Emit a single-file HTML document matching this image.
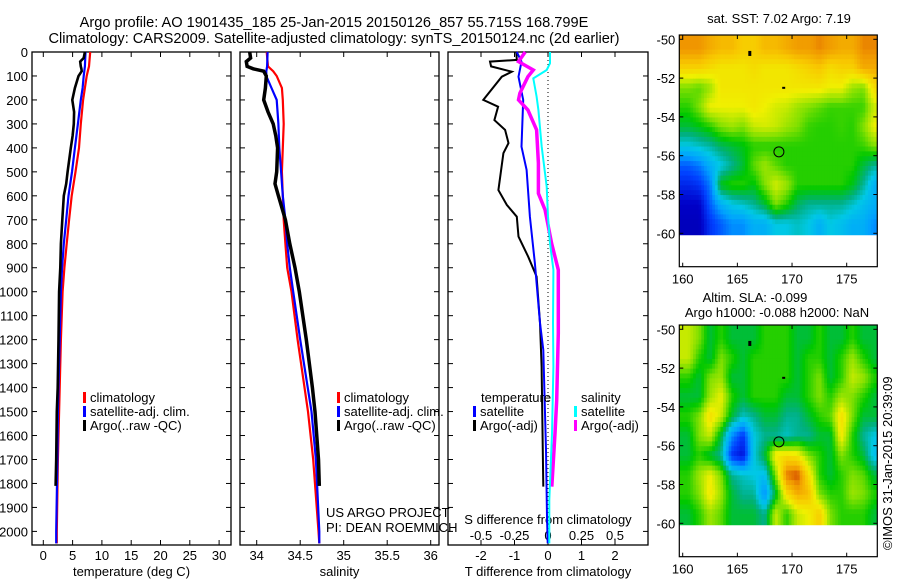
<!DOCTYPE html>
<html><head><meta charset="utf-8"><style>
body{margin:0;background:#fff;}
svg{display:block;font-family:"Liberation Sans",sans-serif;}
text{font-size:13px;fill:#000;}
</style></head><body>
<svg id="fig" width="900" height="580" viewBox="0 0 900 580">
<text x="334" y="27" text-anchor="middle" style="font-size:14.6px">Argo profile: AO 1901435_185 25-Jan-2015 20150126_857 55.715S 168.799E</text>
<text x="334" y="43" text-anchor="middle" style="font-size:14.6px">Climatology: CARS2009. Satellite-adjusted climatology: synTS_20150124.nc (2d earlier)</text>
</svg>
<script>
// ---------- data ----------
const depthsClim=[0,60,80,100,150,200,300,400,500,600,700,800,900,1000,1200,1500,1700,2000,2050];
const tempClim=[8.0,7.8,7.6,7.4,7.1,6.8,6.4,6.1,5.5,4.85,4.4,4.0,3.6,3.3,3.0,2.7,2.5,2.3,2.3];
const tempSat=[7.2,7.1,7.0,6.9,6.7,6.4,5.9,5.4,4.9,4.3,3.9,3.5,3.2,3.0,2.8,2.5,2.4,2.2,2.2];
const salClim=[34.115,34.13,34.19,34.23,34.29,34.30,34.31,34.30,34.29,34.30,34.31,34.33,34.35,34.40,34.47,34.59,34.65,34.71,34.72];
const salSat=[34.125,34.12,34.11,34.11,34.17,34.23,34.25,34.26,34.28,34.30,34.33,34.35,34.38,34.42,34.50,34.63,34.68,34.72,34.72];
const depthsArgo=[0,25,40,60,70,80,100,150,200,250,300,350,400,500,550,600,700,800,900,1000,1200,1400,1500,1700,1810];
const tempArgo=[7.1,6.9,6.3,6.4,6.5,6.55,6.0,5.4,4.95,5.25,5.2,5.0,4.7,4.15,3.9,3.5,3.25,3.0,2.9,2.7,2.6,2.45,2.3,2.2,2.1];
const salArgo=[33.92,33.93,33.88,33.89,33.96,34.08,34.11,34.10,34.08,34.13,34.19,34.22,34.24,34.23,34.21,34.25,34.33,34.38,34.44,34.49,34.57,34.64,34.67,34.71,34.72];
const dTArgoDepth=[0,33,40,60,82,103,200,228,284,325,380,422,576,638,687,770,854,937,1130,1313,1813];
const dTArgo=[-0.95,-0.93,-1.73,-1.7,-1.08,-1.38,-1.93,-1.49,-1.6,-1.28,-1.18,-1.33,-1.48,-1.23,-0.93,-0.88,-0.59,-0.34,-0.24,-0.19,-0.14];
const dTSatDepth=[0,40,103,200,395,492,687,882,1130,1243,1660,1939,2050];
const dTSat=[-0.93,-0.79,-0.88,-0.74,-0.79,-0.64,-0.54,-0.39,-0.24,-0.14,-0.06,-0.03,-0.01];
const dSArgoDepth=[0,40,75,103,172,200,242,325,464,590,659,798,909,1174,1452,1591,1813];
const dSArgo=[-0.17,-0.22,-0.11,-0.15,-0.21,-0.22,-0.15,-0.085,-0.072,-0.072,-0.022,0.027,0.077,0.077,0.065,0.052,0.028];
const dSSatDepth=[0,47,75,110,186,242,395,562,687,798,909,1130,1313,1591,1869,2050];
const dSSat=[0.015,0.015,-0.01,-0.11,-0.085,-0.072,-0.047,-0.01,0.0,0.015,0.04,0.037,0.04,0.03,0.01,0.01];
const tTicks=[0,5,10,15,20,25,30];
const sTicks=[34,34.5,35,35.5,36];
const dTTicks=[-2,-1,0,1,2];
const dSTicks=[-0.5,-0.25,0,0.25,0.5];
const depthTicks=[0,100,200,300,400,500,600,700,800,900,1000,1100,1200,1300,1400,1500,1600,1700,1800,1900,2000];
const lonTicks=[160,165,170,175];
const latTicks=[-50,-52,-54,-56,-58,-60];
// map grids: rows lat -50.5..-59.5, cols lon 160.5..177.5 (colour index 0..1)
const sstGrid=[
[0.83,0.83,0.8,0.78,0.78,0.75,0.75,0.78,0.78,0.8,0.82,0.82,0.84,0.82,0.8,0.8,0.84,0.84],
[0.74,0.74,0.72,0.7,0.7,0.7,0.72,0.7,0.7,0.7,0.72,0.74,0.76,0.72,0.74,0.74,0.8,0.8],
[0.6,0.58,0.62,0.7,0.7,0.7,0.7,0.7,0.7,0.7,0.7,0.7,0.7,0.68,0.68,0.62,0.6,0.72],
[0.55,0.6,0.68,0.68,0.68,0.68,0.7,0.68,0.66,0.65,0.62,0.6,0.58,0.56,0.56,0.56,0.56,0.65],
[0.5,0.52,0.55,0.6,0.62,0.6,0.65,0.66,0.65,0.62,0.6,0.56,0.55,0.55,0.56,0.55,0.6,0.68],
[0.4,0.42,0.44,0.48,0.5,0.52,0.55,0.55,0.55,0.55,0.55,0.55,0.55,0.55,0.55,0.55,0.56,0.6],
[0.25,0.28,0.35,0.4,0.45,0.5,0.58,0.62,0.58,0.55,0.55,0.55,0.55,0.55,0.55,0.55,0.5,0.45],
[0.18,0.2,0.28,0.52,0.55,0.55,0.52,0.6,0.66,0.62,0.55,0.55,0.55,0.55,0.55,0.52,0.45,0.35],
[0.12,0.12,0.25,0.35,0.4,0.42,0.45,0.5,0.6,0.55,0.48,0.45,0.45,0.45,0.45,0.42,0.38,0.35],
[0.1,0.1,0.2,0.25,0.3,0.3,0.35,0.35,0.4,0.4,0.42,0.4,0.35,0.4,0.38,0.35,0.35,0.3]];
const slaGrid=[
[0.65,0.6,0.5,0.55,0.5,0.5,0.5,0.55,0.55,0.55,0.5,0.5,0.55,0.5,0.5,0.55,0.5,0.5],
[0.65,0.55,0.5,0.6,0.55,0.5,0.55,0.55,0.55,0.55,0.5,0.55,0.55,0.5,0.55,0.62,0.55,0.5],
[0.55,0.5,0.6,0.62,0.5,0.5,0.55,0.55,0.55,0.55,0.5,0.55,0.6,0.5,0.55,0.65,0.62,0.55],
[0.5,0.5,0.62,0.68,0.55,0.5,0.55,0.55,0.55,0.5,0.5,0.55,0.6,0.55,0.62,0.6,0.55,0.5],
[0.55,0.6,0.72,0.65,0.5,0.42,0.45,0.5,0.5,0.45,0.45,0.5,0.55,0.58,0.72,0.6,0.5,0.5],
[0.5,0.6,0.65,0.5,0.3,0.2,0.4,0.45,0.45,0.42,0.45,0.45,0.5,0.5,0.7,0.55,0.45,0.4],
[0.5,0.55,0.5,0.45,0.2,0.15,0.4,0.5,0.7,0.72,0.7,0.6,0.55,0.5,0.6,0.55,0.5,0.38],
[0.55,0.62,0.68,0.6,0.45,0.42,0.4,0.38,0.6,0.85,0.88,0.72,0.55,0.5,0.55,0.6,0.58,0.5],
[0.55,0.6,0.7,0.62,0.5,0.45,0.45,0.3,0.5,0.72,0.8,0.78,0.6,0.55,0.55,0.62,0.6,0.55],
[0.5,0.55,0.62,0.58,0.5,0.5,0.5,0.45,0.65,0.55,0.65,0.68,0.75,0.6,0.55,0.55,0.55,0.5]];
const argoLon=168.8, argoLat=-55.8;

// ---------- helpers ----------
const NS='http://www.w3.org/2000/svg';
const svg=document.getElementById('fig');
function mk(tag,attrs,parent){const e=document.createElementNS(NS,tag);for(const k in attrs)e.setAttribute(k,attrs[k]);(parent||svg).appendChild(e);return e;}
function txt(x,y,s,anchor,parent,size){const t=mk('text',{x:x,y:y,'text-anchor':anchor||'middle'},parent);if(size)t.style.fontSize=size+'px';t.textContent=s;return t;}
const yD=d=>52+d*0.2397;

function panel(name,x0,x1,xs,ticks,fmt,label,showDepth){
  const g=mk('g',{});
  
  
  const r=mk('rect',{x:x0,y:52,width:x1-x0,height:493,fill:'none',stroke:'#000','stroke-width':1.3},g);
  
  
  depthTicks.forEach(d=>{
    mk('line',{x1:x0,x2:x0+5,y1:yD(d),y2:yD(d),stroke:'#000'},g);
    mk('line',{x1:x1-5,x2:x1,y1:yD(d),y2:yD(d),stroke:'#000'},g);
    if(showDepth){const t=txt(x0-4,yD(d)+5,String(d),'end',g);
      
      }
  });
  ticks.forEach(v=>{const x=xs(v);
    mk('line',{x1:x,x2:x,y1:52,y2:57,stroke:'#000'},g);
    mk('line',{x1:x,x2:x,y1:540,y2:545,stroke:'#000'},g);
    const t=txt(x,560,fmt(v),'middle',g);
    
    
  });
  const l=txt((x0+x1)/2,576,label,'middle',g);
  
  
  return g;
}
function line(g,xs,vals,depths,color,w,name,dash){
  const pts=vals.map((v,i)=>xs(v).toFixed(1)+','+yD(depths[i]).toFixed(1)).join(' ');
  const p=mk('polyline',{points:pts,fill:'none',stroke:color,'stroke-width':w,'stroke-linejoin':'miter'},g);
  if(dash)p.setAttribute('stroke-dasharray',dash);
  
  
}
function legend(g,x,y,items){
  items.forEach((it,i)=>{
    mk('rect',{x:x,y:y+i*14-6,width:3,height:11,fill:it[1]},g);
    const t=txt(x+7,y+i*14+4,it[0],'start',g);
    
    
  });
}

// ---------- temperature panel ----------
const xT=v=>43.3+5.86*v;
const g1=panel('temperature-panel',32,231,xT,tTicks,v=>String(v),'temperature (deg C)',true);
line(g1,xT,tempClim,depthsClim,'#f00',2.2,'temp-climatology-line');
line(g1,xT,tempSat,depthsClim,'#00f',2.2,'temp-satellite-line');
line(g1,xT,tempArgo,depthsArgo,'#000',2.6,'temp-argo-line');
legend(g1,83,398,[['climatology','#f00'],['satellite-adj. clim.','#00f'],['Argo(..raw -QC)','#000']]);

// ---------- salinity panel ----------
const xS=v=>256.7+87*(v-34);
const g2=panel('salinity-panel',240,439,xS,sTicks,v=>String(v),'salinity',false);
line(g2,xS,salClim,depthsClim,'#f00',2.2,'sal-climatology-line');
line(g2,xS,salSat,depthsClim,'#00f',2.2,'sal-satellite-line');
line(g2,xS,salArgo,depthsArgo,'#000',3.5,'sal-argo-line');
legend(g2,337,398,[['climatology','#f00'],['satellite-adj. clim.','#00f'],['Argo(..raw -QC)','#000']]);
txt(326,517,'US ARGO PROJECT','start',g2);
txt(326,532,'PI: DEAN ROEMMICH','start',g2);

// ---------- difference panel ----------
const xdT=v=>548+33.5*v;
const xdS=v=>548+134*v;
const g3=panel('difference-panel',448,648,xdT,dTTicks,v=>String(v),'T difference from climatology',false);
mk('line',{x1:548,x2:548,y1:52,y2:545,stroke:'#000','stroke-dasharray':'1,3'},g3);
dSTicks.forEach(v=>{const t=txt(xdS(v),540,String(v),'middle',g3);
  
  });
txt(548,524,'S difference from climatology','middle',g3);
line(g3,xdT,dTArgo,dTArgoDepth,'#000',2,'dT-argo-line');
line(g3,xdT,dTSat,dTSatDepth,'#00f',2,'dT-satellite-line');
line(g3,xdS,dSArgo,dSArgoDepth,'#f0f',3.5,'dS-argo-line');
line(g3,xdS,dSSat,dSSatDepth,'#0ff',2,'dS-satellite-line');
txt(481,402,'temperature','start',g3);
txt(581,402,'salinity','start',g3);
legend(g3,473,412,[['satellite','#00f'],['Argo(-adj)','#000']]);
legend(g3,574,412,[['satellite','#0ff'],['Argo(-adj)','#f0f']]);

// ---------- maps ----------
const stops=[[0,[0,0,128]],[0.12,[0,0,200]],[0.22,[0,64,255]],[0.32,[0,160,255]],[0.4,[0,200,230]],[0.46,[0,176,128]],[0.53,[0,200,0]],[0.6,[128,224,0]],[0.68,[240,240,0]],[0.76,[248,200,0]],[0.83,[240,150,0]],[0.9,[200,40,0]],[1,[150,0,0]]];
function cmap(v){v=Math.max(0,Math.min(1,v));for(let i=1;i<stops.length;i++){if(v<=stops[i][0]){const a=stops[i-1],b=stops[i],f=(v-a[0])/(b[0]-a[0]);const c=a[1].map((x,k)=>Math.round(x+(b[1][k]-x)*f));return 'rgb('+c.join(',')+')';}}return 'rgb(150,0,0)';}
function sample(grid,lon,lat){
  let c=lon-160.5, r=-50.5-lat;
  c=Math.max(0,Math.min(17,c)); r=Math.max(0,Math.min(9,r));
  const c0=Math.min(16,Math.floor(c)), r0=Math.min(8,Math.floor(r)); const fc=c-c0, fr=r-r0;
  return grid[r0][c0]*(1-fc)*(1-fr)+grid[r0][c0+1]*fc*(1-fr)+grid[r0+1][c0]*(1-fc)*fr+grid[r0+1][c0+1]*fc*fr;
}
function map(name,grid,top,lat50y,lat60y){
  const g=mk('g',{});
  
  
  const left=679.3,right=877.3,bottom=top+231.7;
  const xL=lon=>682.7+(lon-160)*10.933;
  const yL=lat=>lat50y+(-50-lat)*(lat60y-lat50y)/10;
  const latTop=-50+(lat50y-top)*10/(lat60y-lat50y);
  const step=0.25;
  for(let lat=latTop;lat>-60.1;lat-=step){
    for(let lon=159.7;lon<177.8;lon+=step){
      const v=sample(grid,lon+step/2,lat-step/2);
      const x=xL(lon),y=yL(lat);
      const h=yL(Math.max(lat-step,-60.1))-y;
      const rc=mk('rect',{x:x.toFixed(2),y:y.toFixed(2),width:(step*10.933+0.5).toFixed(2),height:(h+0.5).toFixed(2),fill:cmap(v)},g);
      
      
    }
  }
  mk('rect',{x:left,y:yL(-60.1),width:right-left,height:bottom-yL(-60.1),fill:'#fff'},g);
  mk('rect',{x:right,y:top,width:4,height:bottom-top,fill:'#fff'},g);
  mk('rect',{x:left,y:top,width:right-left,height:bottom-top,fill:'none',stroke:'#000','stroke-width':1.2},g);
  lonTicks.forEach(l=>{const x=xL(l);mk('line',{x1:x,x2:x,y1:top,y2:top+4,stroke:'#000'},g);mk('line',{x1:x,x2:x,y1:bottom-4,y2:bottom,stroke:'#000'},g);
    const t=txt(x,bottom+17,String(l),'middle',g);
    
    });
  latTicks.forEach(l=>{const y=yL(l);mk('line',{x1:left,x2:left+4,y1:y,y2:y,stroke:'#000'},g);mk('line',{x1:right-4,x2:right,y1:y,y2:y,stroke:'#000'},g);
    const t=txt(left-4,y+5,String(l),'end',g);
    
    });
  mk('rect',{x:xL(166),y:yL(-50.6),width:3,height:5,fill:'#000'},g);
  mk('rect',{x:xL(169.1),y:yL(-52.45),width:3,height:2,fill:'#000'},g);
  const c=mk('circle',{cx:xL(argoLon),cy:yL(argoLat),r:5,fill:'none',stroke:'#000','stroke-width':1},g);
  
  
}
map('sst-map',sstGrid,35,39.3,233.3);
map('sla-map',slaGrid,325,329.3,523.3);
txt(779,23,'sat. SST: 7.02 Argo: 7.19','middle');
txt(755,302,'Altim. SLA: -0.099','middle');
txt(777,317,'Argo h1000: -0.088 h2000: NaN','middle');
const ts=txt(0,0,'©IMOS 31-Jan-2015 20:39:09','start');
ts.setAttribute('transform','translate(892,550) rotate(-90)');


</script>
</body></html>
